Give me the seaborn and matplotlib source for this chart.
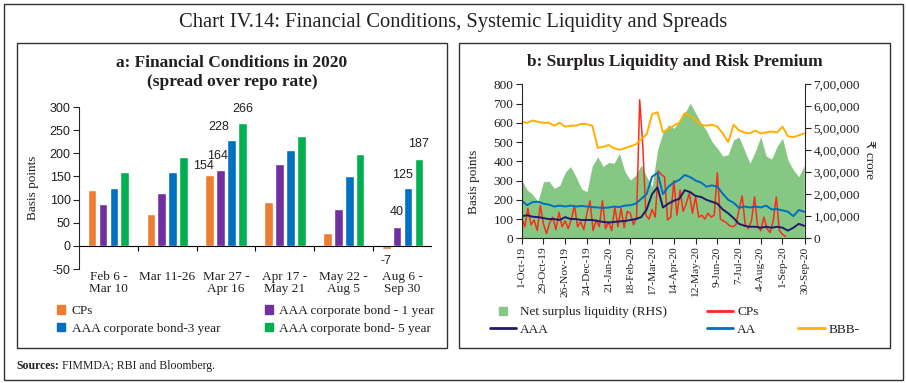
import numpy as np
import pandas as pd
import matplotlib
matplotlib.use("Agg")
import matplotlib.pyplot as plt
import seaborn as sns
from matplotlib.patches import Rectangle, Patch
from matplotlib.lines import Line2D

# ---------------- Panel a data ----------------
periods = ["Feb 6 -\nMar 10", "Mar 11-26", "Mar 27 -\nApr 16",
           "Apr 17 -\nMay 21", "May 22 -\nAug 5", "Aug 6 -\nSep 30"]
series_a = ["CPs", "AAA corporate bond - 1 year",
            "AAA corporate bond-3 year", "AAA corporate bond- 5 year"]
cps_a = [120, 69, 154, 94, 27, -7]
aaa1_a = [90, 114, 164, 176, 80, 40]
aaa3_a = [124, 160, 228, 208, 152, 125]
aaa5_a = [159, 192, 266, 238, 198, 187]
labelled_groups = [2, 5]
yticks_a = [-50, 0, 50, 100, 150, 200, 250, 300]

# ---------------- Panel b data ----------------
weekly_start = "2019-10-01"
bbb = [606, 600, 612, 605, 600, 600, 585, 600, 580, 585, 585, 595, 592, 585,
       470, 475, 485, 468, 460, 468, 478, 488, 515, 540, 645, 655, 550, 568,
       585, 600, 650, 635, 615, 590, 585, 590, 580, 545, 500, 590, 560, 550,
       545, 560, 545, 550, 555, 550, 580, 530, 525, 535, 545]
aa = [195, 172, 188, 190, 180, 175, 165, 170, 165, 170, 165, 168, 165, 162,
      160, 158, 160, 165, 162, 170, 172, 180, 205, 230, 320, 340, 230, 268,
      290, 303, 329, 318, 300, 290, 268, 275, 268, 232, 200, 185, 158, 165,
      160, 165, 160, 170, 150, 152, 145, 138, 115, 147, 138]
aaa = [115, 120, 112, 110, 105, 100, 100, 95, 110, 100, 100, 95, 95, 95,
       90, 85, 82, 85, 88, 90, 95, 100, 110, 150, 230, 265, 160, 180,
       195, 205, 250, 240, 220, 215, 200, 190, 180, 150, 130, 105, 75, 65,
       60, 60, 55, 60, 55, 60, 55, 40, 55, 75, 65]
liquidity = [265000, 220000, 200000, 167000, 257000, 260000, 227000, 240000,
             300000, 326000, 280000, 225000, 212000, 330000, 370000, 326000,
             345000, 341000, 386000, 303000, 265000, 288000, 333000, 280000,
             235000, 402000, 480000, 515000, 500000, 530000, 568000, 614000,
             570000, 525000, 490000, 440000, 410000, 374000, 380000, 447000,
             460000, 401000, 341000, 395000, 462000, 374000, 360000, 417000,
             455000, 356000, 311000, 280000, 330000]
cp_start = "2019-10-01"
cps_b = [110, 60, 155, 70, 95, 40, 170, 75, 25, 80, 110, 45, 135, 60, 90, 50,
         100, 170, 60, 85, 45, 130, 195, 40, 95, 60, 195, 50, 85, 40, 165, 60,
         155, 55, 140, 130, 70, 110, 720, 480, 120, 100, 150, 110, 350, 330,
         320, 95, 110, 300, 120, 250, 140, 180, 235, 130, 215, 110, 120, 100,
         130, 110, 120, 340, 100, 90, 80, 65, 60, 70, 150, 220, 70, 50, 90,
         215, 60, 40, 110, 50, 30, 90, 215, 40, 20, 10]
date_ticks = ["2019-10-01", "2019-10-29", "2019-11-26", "2019-12-24",
              "2020-01-21", "2020-02-18", "2020-03-17", "2020-04-14",
              "2020-05-12", "2020-06-09", "2020-07-07", "2020-08-04",
              "2020-09-01", "2020-09-30"]
date_tick_labels = ["1-Oct-19", "29-Oct-19", "26-Nov-19", "24-Dec-19",
                    "21-Jan-20", "18-Feb-20", "17-Mar-20", "14-Apr-20",
                    "12-May-20", "9-Jun-20", "7-Jul-20", "4-Aug-20",
                    "1-Sep-20", "30-Sep-20"]
yticks_b = [0, 100, 200, 300, 400, 500, 600, 700, 800]
yticks_b2 = [0, 100000, 200000, 300000, 400000, 500000, 600000, 700000]
yticks_b2_labels = ["0", "1,00,000", "2,00,000", "3,00,000", "4,00,000",
                    "5,00,000", "6,00,000", "7,00,000"]

# ---------------- style ----------------
sns.set_style("ticks")
SERIF = ["Liberation Serif", "DejaVu Serif"]
SANS = ["Liberation Sans", "DejaVu Sans"]
plt.rcParams["font.family"] = SERIF
plt.rcParams["axes.linewidth"] = 0.8
plt.rcParams["xtick.major.width"] = 0.8
plt.rcParams["ytick.major.width"] = 0.8
TXT = "#231F20"

col_a = ["#ED7D31", "#7030A0", "#0070C0", "#00B050"]
c_liq = "#86C784"
c_cp = "#FF2A1A"
c_aaa = "#1F1D6B"
c_aa = "#0070C0"
c_bbb = "#FFB000"

W, H = 906, 383
fig = plt.figure(figsize=(W / 100, H / 100), dpi=100)


def fx(px):
    return px / W


def fy(py):
    return 1 - py / H


# borders
fig.patches.append(Rectangle((fx(4), fy(380)), fx(899), 376 / H, fill=False,
                             lw=1.0, ec="#333333", transform=fig.transFigure))
for x0, x1 in [(17, 447), (459, 890)]:
    fig.patches.append(Rectangle((fx(x0), fy(348)), fx(x1 - x0), 305 / H,
                                 fill=False, lw=1.0, ec="#333333",
                                 transform=fig.transFigure))

fig.text(0.5, fy(22), "Chart IV.14: Financial Conditions, Systemic Liquidity and Spreads",
         ha="center", va="center", fontsize=14.8, color=TXT)

# ---------------- Panel a ----------------
axA = fig.add_axes([fx(79), fy(269), fx(353), 162 / H])
rows = []
for s, vals in zip(series_a, [cps_a, aaa1_a, aaa3_a, aaa5_a]):
    for p, v in zip(periods, vals):
        rows.append({"period": p, "series": s, "value": v})
dfa = pd.DataFrame(rows)
sns.barplot(data=dfa, x="period", y="value", hue="series", order=periods,
            hue_order=series_a, palette=col_a, width=0.74, gap=0.2,
            saturation=1, legend=False, ax=axA)
axA.set_xlim(-0.5, len(periods) - 0.5)
axA.set_ylim(-50, 300)
axA.set_yticks(yticks_a)
axA.set_yticklabels([str(v) for v in yticks_a], family=SANS, fontsize=9, color=TXT)
axA.tick_params(axis="y", length=4, direction="out", pad=2)
axA.set_xticks([])
axA.set_xlabel("")
axA.set_ylabel("Basis points", fontsize=9.5, color=TXT)
axA.yaxis.set_label_coords(-0.113, 0.5)
for sp in ["top", "right", "bottom"]:
    axA.spines[sp].set_visible(False)
axA.axhline(0, color="black", lw=0.8)
bounds = np.arange(len(periods) + 1) - 0.5
axA.vlines(bounds[1:], 0, -11, color="black", lw=0.8)
for i, p in enumerate(periods):
    axA.annotate(p, (i, 0), xycoords=("data", "axes fraction"),
                 xytext=(0, -2), textcoords="offset pixels", ha="center",
                 va="top", fontsize=9.5, linespacing=1.05, color=TXT)
label_off = {(2, 0): (-6, 9), (2, 1): (-3, 14), (2, 2): (-13, 13), (2, 3): (0, 14),
             (5, 0): (0, -12), (5, 1): (0, 15), (5, 2): (-6, 13), (5, 3): (0, 15)}
for h, cont in enumerate(axA.containers):
    for g in labelled_groups:
        bar = cont[g]
        val = [cps_a, aaa1_a, aaa3_a, aaa5_a][h][g]
        xc = bar.get_x() + bar.get_width() / 2
        dx, dy = label_off[(g, h)]
        axA.annotate(str(val), (xc, val), xytext=(dx, dy),
                     textcoords="offset pixels", ha="center", va="center",
                     family=SANS, fontsize=9, color=TXT)

fig.text(fx(232), fy(63), "a: Financial Conditions in 2020", ha="center",
         va="center", fontsize=12.5, fontweight="bold", color=TXT)
fig.text(fx(232), fy(82), "(spread over repo rate)", ha="center",
         va="center", fontsize=12.5, fontweight="bold", color=TXT)

hA = [Patch(color=col_a[0], label=series_a[0]), Patch(color=col_a[2], label=series_a[2]),
      Patch(color=col_a[1], label=series_a[1]), Patch(color=col_a[3], label=series_a[3])]
fig.legend(handles=hA, loc="upper left", bbox_to_anchor=(fx(57), fy(305)),
           ncol=2, frameon=False, fontsize=9.5, handlelength=0.6,
           handleheight=0.6, handletextpad=0.5, columnspacing=3.4,
           labelspacing=0.45, borderpad=0, borderaxespad=0, labelcolor=TXT)

# ---------------- Panel b ----------------
axB = fig.add_axes([fx(521.7), fy(238.3), fx(283.3), 154 / H])
axB2 = axB.twinx()
wdates = pd.date_range(weekly_start, periods=len(bbb), freq="7D")
cdates = pd.date_range(cp_start, periods=len(cps_b), freq="4D")
axB2.fill_between(wdates, 0, liquidity, color=c_liq, lw=0)
axB2.set_ylim(0, 700000)
axB2.set_yticks(yticks_b2)
axB2.set_yticklabels(yticks_b2_labels, fontsize=9.5, color=TXT)
axB2.set_ylabel("₹ crore", family=["Liberation Serif", "DejaVu Sans"],
                fontsize=9.5, rotation=270, va="center", color=TXT)
axB2.yaxis.set_label_coords(1.222, 0.51)
axB2.tick_params(axis="y", length=4, direction="out", pad=2)

axB.set_zorder(axB2.get_zorder() + 1)
axB.patch.set_visible(False)
sns.lineplot(x=cdates, y=cps_b, color=c_cp, lw=1.1, ax=axB, estimator=None)
sns.lineplot(x=wdates, y=aa, color=c_aa, lw=1.4, ax=axB, estimator=None)
sns.lineplot(x=wdates, y=aaa, color=c_aaa, lw=1.4, ax=axB, estimator=None)
sns.lineplot(x=wdates, y=bbb, color=c_bbb, lw=1.4, ax=axB, estimator=None)
axB.set_xlim(pd.Timestamp(date_ticks[0]), pd.Timestamp(date_ticks[-1]))
axB.set_ylim(0, 800)
axB.set_yticks(yticks_b)
axB.set_yticklabels([str(v) for v in yticks_b], fontsize=9.5, color=TXT)
axB.set_xticks(pd.to_datetime(date_ticks))
axB.set_xticklabels(date_tick_labels, rotation=90, fontsize=8.2, color=TXT)
axB.tick_params(axis="both", length=4, direction="out", pad=2)
axB.set_ylabel("Basis points", fontsize=9.5, color=TXT)
axB.yaxis.set_label_coords(-0.147, 0.365)
axB.set_xlabel("")
for ax_ in (axB, axB2):
    ax_.spines["top"].set_visible(False)
axB.spines["right"].set_visible(False)
axB2.spines["left"].set_visible(False)
axB2.spines["bottom"].set_visible(False)

fig.text(fx(675), fy(62), "b: Surplus Liquidity and Risk Premium", ha="center",
         va="center", fontsize=12.5, fontweight="bold", color=TXT)

hB = [Line2D([], [], marker="s", ls="none", color=c_liq, markersize=5.5,
             label="Net surplus liquidity (RHS)"),
      Line2D([], [], color=c_aaa, lw=2, label="AAA"),
      Line2D([], [], color=c_cp, lw=2, label="CPs"),
      Line2D([], [], color=c_aa, lw=2, label="AA"),
      Line2D([], [], color="none", label=" "),
      Line2D([], [], color=c_bbb, lw=2, label="BBB-")]
fig.legend(handles=hB, loc="upper left", bbox_to_anchor=(fx(490), fy(306)),
           ncol=3, frameon=False, fontsize=9.5, handlelength=2.0,
           handletextpad=0.3, columnspacing=3.0, labelspacing=0.4,
           borderpad=0, borderaxespad=0, labelcolor=TXT)

fig.text(fx(16), fy(366), "Sources:", fontsize=8.5, fontweight="bold",
         va="center", color=TXT)
fig.text(fx(62), fy(366), "FIMMDA; RBI and Bloomberg.", fontsize=8.5,
         va="center", color=TXT)

fig.savefig("out.png", dpi=100)
